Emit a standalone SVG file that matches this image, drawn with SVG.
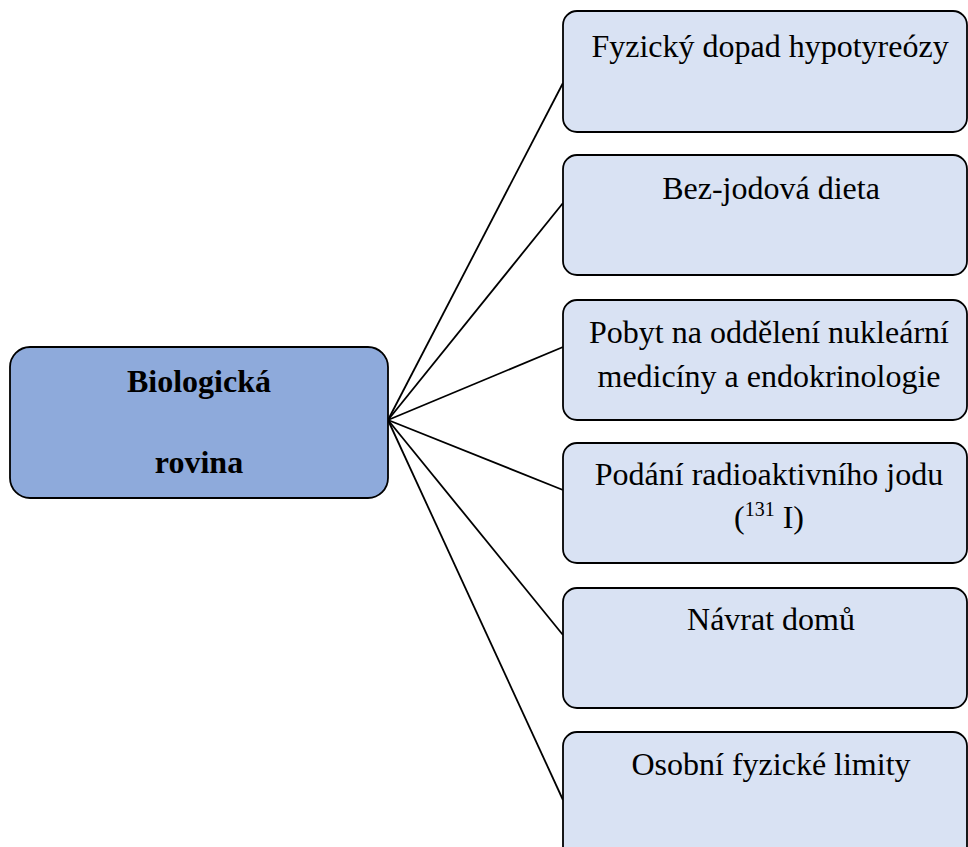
<svg xmlns="http://www.w3.org/2000/svg" width="968" height="847" viewBox="0 0 968 847">
<style>
.box{fill:#D9E2F3;stroke:#000;stroke-width:1.8}
.main{fill:#8EAADB;stroke:#000;stroke-width:1.8}
.t{font-family:"Liberation Serif","Times New Roman",serif;font-size:32px;fill:#000;text-anchor:middle}
.b{font-weight:bold}
.c{stroke:#000;stroke-width:1.8;fill:none}
</style>
<rect width="968" height="847" fill="#fff"/>
<g id="connectors">
<line class="c" x1="388" y1="420" x2="563" y2="83"/>
<line class="c" x1="388" y1="420" x2="563" y2="203"/>
<line class="c" x1="388" y1="420" x2="563" y2="347"/>
<line class="c" x1="388" y1="420" x2="563" y2="490"/>
<line class="c" x1="388" y1="420" x2="563" y2="635"/>
<line class="c" x1="388" y1="420" x2="563" y2="800"/>
</g>
<g id="root">
<rect class="main" x="10" y="347" width="378" height="151" rx="20"/>
<text class="t b" x="199" y="392">Biologická</text>
<text class="t b" x="199" y="473">rovina</text>
</g>
<g id="n1">
<rect class="box" x="563" y="11" width="404" height="121" rx="14"/>
<text class="t" x="770" y="57">Fyzický dopad hypotyreózy</text>
</g>
<g id="n2">
<rect class="box" x="563" y="155" width="404" height="120" rx="14"/>
<text class="t" x="771" y="199">Bez-jodová dieta</text>
</g>
<g id="n3">
<rect class="box" x="563" y="300" width="404" height="120" rx="14"/>
<text class="t" x="769" y="343">Pobyt na oddělení nukleární</text>
<text class="t" x="769" y="387">medicíny a endokrinologie</text>
</g>
<g id="n4">
<rect class="box" x="563" y="443" width="404" height="120" rx="14"/>
<text class="t" x="769" y="485">Podání radioaktivního jodu</text>
<text class="t" x="769" y="528">(<tspan font-size="20" dy="-12">131</tspan><tspan dy="12"> I)</tspan></text>
</g>
<g id="n5">
<rect class="box" x="563" y="588" width="404" height="120" rx="14"/>
<text class="t" x="771" y="630">Návrat domů</text>
</g>
<g id="n6">
<rect class="box" x="563" y="732" width="404" height="130" rx="14"/>
<text class="t" x="771" y="775">Osobní fyzické limity</text>
</g>
</svg>
